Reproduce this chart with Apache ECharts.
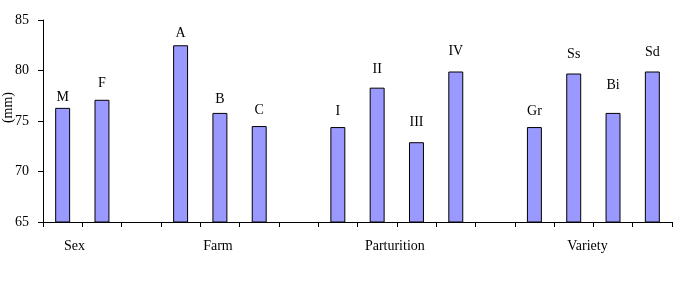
<!DOCTYPE html>
<html><head><meta charset="utf-8">
<script src="https://cdn.jsdelivr.net/npm/echarts@6/dist/echarts.min.js"></script>
<style>html,body{margin:0;padding:0;background:#fff}#c{width:697px;height:286px}</style>
</head><body><div id="c"></div>
<script>
var categories = ['M','F','gap1','A','B','C','gap2','I','II','III','IV','gap3','Gr','Ss','Bi','Sd'];
var values = [76.3, 77.1, null, 82.5, 75.8, 74.5, null, 74.4, 78.3, 72.9, 79.9, null, 74.4, 79.7, 75.8, 79.9];
var groupNames = ['Sex','Farm','Parturition','Variety'];
var groupPositions = [0.8, 4.45, 8.95, 13.85];
var yTicks = [65, 70, 75, 80, 85];
var labelGap = [4, 9, null, 5, 7, 9, null, 9, 11, 13, 13, null, 9, 12, 21, 12];

var font = '"Liberation Serif","Times New Roman",serif';
var chart = echarts.init(document.getElementById('c'));
var seriesData = values.map(function(v, i){
  if (v === null) return '-';
  return {value: v, label: {distance: labelGap[i]}};
});
chart.setOption({
  backgroundColor: '#fff',
  animation: false,
  grid: {left: 43, right: 25, top: 20, bottom: 64},
  xAxis: [{
    type: 'category', data: categories,
    axisLine: {lineStyle: {color: '#000', width: 1}},
    axisTick: {show: true, length: 5, lineStyle: {color: '#000'}},
    axisLabel: {show: false}
  }, {
    type: 'value', min: 0, max: 16, interval: 0.05, position: 'bottom',
    axisLine: {show: false}, axisTick: {show: false}, splitLine: {show: false},
    axisLabel: {
      margin: 17, color: '#000', fontFamily: font, fontSize: 14,
      showMinLabel: false, showMaxLabel: false,
      formatter: function(v){
        for (var i = 0; i < groupPositions.length; i++) {
          if (Math.abs(v - groupPositions[i]) < 0.001) return groupNames[i];
        }
        return '';
      }
    }
  }],
  yAxis: {
    type: 'value', min: yTicks[0], max: yTicks[yTicks.length-1], interval: 5,
    axisLine: {show: true, lineStyle: {color: '#000'}},
    axisTick: {show: true, length: 5, inside: false, lineStyle: {color: '#000'}},
    splitLine: {show: false},
    axisLabel: {color: '#000', fontFamily: font, fontSize: 14, margin: 14}
  },
  graphic: [{
    type: 'text', left: 1, top: 92, rotation: Math.PI/2,
    style: {text: '(mm)', font: '14px ' + font, fill: '#000'}
  }],
  series: [{
    type: 'bar', xAxisIndex: 0, data: seriesData, barWidth: '38%',
    itemStyle: {color: '#9999FF', borderColor: '#000', borderWidth: 1},
    label: {show: true, position: 'top', color: '#000', fontFamily: font, fontSize: 14,
      formatter: function(p){ return categories[p.dataIndex]; }}
  }]
});
</script></body></html>
